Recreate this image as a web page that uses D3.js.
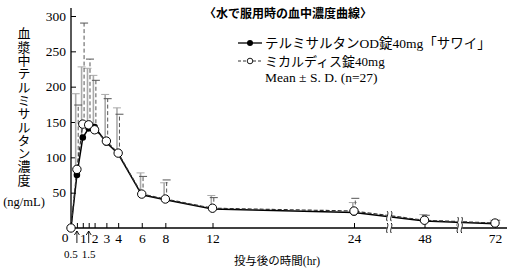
<!DOCTYPE html>
<meta charset="utf-8">
<head>
    <style>
        body {margin: 0; background-color: #ffffff;}
        .jp {font-family: "Liberation Serif", "Noto Sans CJK JP", serif;}
        .num {font-family: "Liberation Serif", serif;}
    </style>
    <title></title>
</head>
<body>
<script src="https://d3js.org/d3.v7.min.js"></script>
<script>

    // sampling times (hr) and plasma concentrations (ng/mL)
    const times   = [0, 0.5, 1, 1.5, 2, 3, 4, 6, 8, 12, 24, 48, 72];
    const odMean  = [0, 75, 128, 141, 143, 121, 105, 47, 40, 27, 22, 10, 6];
    const odSD    = [0, 115, 100, 85, 73, 68, 65, 31, 24, 19, 14, 9, 5];
    const micMean = [0, 83, 147, 146, 139, 123, 106, 48, 41, 28, 24, 11, 7];
    const micSD   = [0, 91, 143, 93, 70, 60, 55, 25, 27, 15, 18, 7, 4];

    const yTicks = [50, 100, 150, 200, 250, 300];
    const xTicks = [0.5, 1, 1.5, 2, 3, 4, 6, 8, 12, 24, 48, 72];
    const xSmall = [0.5, 1.5];     // labelled below with arrows
    const xBreaks = [36, 60];      // broken axis positions

    const width = 511, height = 273;

    var svg = d3.select("body")
      .append("svg")
        .attr("width", width)
        .attr("height", height);

    // time axis is compressed after 24 hr
    var x = d3.scaleLinear()
      .domain([0, 24, 72])
      .range([71, 354, 495]);

    var y = d3.scaleLinear()
      .domain([0, 300])
      .range([228, 16]);

    // ---- axes
    var xAxis = svg.append("g")
      .attr("transform", "translate(0," + y(0) + ")")
      .call(d3.axisBottom(x)
        .tickValues(xTicks)
        .tickSizeInner(-5)
        .tickSizeOuter(0)
        .tickPadding(5)
        .tickFormat(d => xSmall.includes(d) ? "" : d));
    xAxis.select(".domain").remove();
    xAxis.selectAll("line").attr("stroke", "#000").attr("stroke-width", 1);
    xAxis.selectAll("text")
      .attr("class", "num")
      .style("font-size", "13.5px")
      .attr("fill", "#000");

    var yAxis = svg.append("g")
      .attr("transform", "translate(" + x(0) + ",0)")
      .call(d3.axisLeft(y)
        .tickValues(yTicks)
        .tickSizeInner(-5)
        .tickSizeOuter(0)
        .tickPadding(5));
    yAxis.select(".domain").remove();
    yAxis.selectAll("line").attr("stroke", "#000").attr("stroke-width", 1);
    yAxis.selectAll("text")
      .attr("class", "num")
      .style("font-size", "13.5px")
      .attr("fill", "#000");

    svg.append("line")
      .attr("x1", x(0)).attr("x2", x(0))
      .attr("y1", y(0)).attr("y2", 8)
      .attr("stroke", "#000").attr("stroke-width", 1.3);
    svg.append("line")
      .attr("x1", x(0)).attr("x2", 507)
      .attr("y1", y(0)).attr("y2", y(0))
      .attr("stroke", "#000").attr("stroke-width", 1.3);

    svg.append("text")
      .attr("class", "num")
      .attr("x", x(0) - 6).attr("y", y(0) + 14)
      .attr("text-anchor", "middle")
      .style("font-size", "13.5px")
      .text("0");

    // 0.5 and 1.5 with little arrows
    xSmall.forEach(function (t, i) {
      var px = x(t);
      svg.append("path")
        .attr("d", "M" + px + "," + (y(0) + 15) + "V" + (y(0) + 3)
          + "M" + (px - 2.5) + "," + (y(0) + 7) + "L" + px + "," + (y(0) + 3)
          + "L" + (px + 2.5) + "," + (y(0) + 7))
        .attr("fill", "none")
        .attr("stroke", "#000")
        .attr("stroke-width", 0.9);
      svg.append("text")
        .attr("class", "num")
        .attr("x", px + (i == 0 ? -6 : 0)).attr("y", y(0) + 30)
        .attr("text-anchor", "middle")
        .style("font-size", "11px")
        .text(t);
    });

    // ---- error bars (upper SD)
    function errorBars(means, sds, dx, color, dash, sw) {
      var g = svg.append("g");
      times.forEach(function (t, i) {
        if (sds[i] == 0) return;
        var px = x(t) + dx;
        g.append("line")
          .attr("x1", px).attr("x2", px)
          .attr("y1", y(means[i])).attr("y2", y(means[i] + sds[i]))
          .attr("stroke", color)
          .attr("stroke-width", sw)
          .attr("stroke-dasharray", dash);
        g.append("line")
          .attr("x1", px - 4).attr("x2", px + 4)
          .attr("y1", y(means[i] + sds[i])).attr("y2", y(means[i] + sds[i]))
          .attr("stroke", color)
          .attr("stroke-width", 1);
      });
    }
    errorBars(odMean, odSD, -1.2, "#aaaaaa", null, 1.6);
    errorBars(micMean, micSD, 1.3, "#555555", "4,2.5", 1);

    // ---- lines
    var pts = (vals) => times.map((t, i) => [x(t), y(vals[i])]);
    var line = d3.line();

    svg.append("path")
      .attr("d", line(pts(odMean)))
      .attr("fill", "none")
      .attr("stroke", "#000")
      .attr("stroke-width", 1.5);
    svg.append("path")
      .attr("d", line(pts(micMean)))
      .attr("fill", "none")
      .attr("stroke", "#333")
      .attr("stroke-width", 1.2)
      .attr("stroke-dasharray", "4,2");

    // ---- break marks on the axis and the curves
    function breakMark(px, py) {
      svg.append("rect")
        .attr("x", px - 2.5).attr("y", py - 5)
        .attr("width", 5).attr("height", 10)
        .attr("fill", "#fff");
      [-2, 2].forEach(function (o) {
        var cx = px + o;
        svg.append("path")
          .attr("d", "M" + cx + "," + (py - 5)
            + "C" + (cx + 2.2) + "," + (py - 2) + " " + (cx - 2.2) + "," + (py + 2)
            + " " + cx + "," + (py + 5))
          .attr("fill", "none")
          .attr("stroke", "#000")
          .attr("stroke-width", 0.9);
      });
    }
    xBreaks.forEach(function (tb) {
      var i = d3.bisectRight(times, tb) - 1;
      var f = (x(tb) - x(times[i])) / (x(times[i + 1]) - x(times[i]));
      var v = (odMean[i] + micMean[i]) / 2 + f * ((odMean[i + 1] + micMean[i + 1]) / 2 - (odMean[i] + micMean[i]) / 2);
      breakMark(x(tb), y(v));
      breakMark(x(tb), y(0));
    });

    // ---- markers
    svg.append("g").selectAll("circle")
      .data(times)
      .enter()
      .append("circle")
        .attr("cx", d => x(d))
        .attr("cy", (d, i) => y(odMean[i]))
        .attr("r", 3.3)
        .attr("fill", "#000");
    svg.append("g").selectAll("circle")
      .data(times)
      .enter()
      .append("circle")
        .attr("cx", d => x(d))
        .attr("cy", (d, i) => y(micMean[i]))
        .attr("r", 4.2)
        .attr("fill", "#fff")
        .attr("stroke", "#000")
        .attr("stroke-width", 1);

    // ---- titles
    svg.append("text")
      .attr("x", 288).attr("y", 17.5)
      .attr("text-anchor", "middle")
      .style("font-family", "'Noto Sans CJK JP', sans-serif")
      .style("font-weight", "bold")
      .style("font-size", "12px")
      .text("〈水で服用時の血中濃度曲線〉");

    svg.append("text")
      .attr("class", "jp")
      .attr("x", 23).attr("y", 27)
      .style("writing-mode", "vertical-rl")
      .style("text-orientation", "upright")
      .style("font-size", "13px")
      .style("letter-spacing", "0.3px")
      .text("血漿中テルミサルタン濃度");
    svg.append("text")
      .attr("class", "num")
      .attr("x", 24).attr("y", 205.5)
      .attr("text-anchor", "middle")
      .style("font-size", "12.5px")
      .text("(ng/mL)");

    svg.append("text")
      .attr("class", "jp")
      .attr("x", 277).attr("y", 264.5)
      .attr("text-anchor", "middle")
      .style("font-size", "11.5px")
      .text("投与後の時間(hr)");

    // ---- legend
    var lg = svg.append("g");
    lg.append("line")
      .attr("x1", 238).attr("x2", 262).attr("y1", 43).attr("y2", 43)
      .attr("stroke", "#000").attr("stroke-width", 1.3);
    lg.append("circle")
      .attr("cx", 250).attr("cy", 43).attr("r", 3)
      .attr("fill", "#000");
    lg.append("text")
      .attr("class", "jp")
      .attr("x", 265).attr("y", 48)
      .style("font-size", "13.5px")
      .text("テルミサルタンOD錠40mg「サワイ」");

    lg.append("line")
      .attr("x1", 238).attr("x2", 262).attr("y1", 61).attr("y2", 61)
      .attr("stroke", "#333").attr("stroke-width", 1)
      .attr("stroke-dasharray", "3,2");
    lg.append("circle")
      .attr("cx", 250).attr("cy", 61).attr("r", 2.8)
      .attr("fill", "#fff").attr("stroke", "#000").attr("stroke-width", 0.9);
    lg.append("text")
      .attr("class", "jp")
      .attr("x", 265).attr("y", 66)
      .style("font-size", "13px")
      .text("ミカルディス錠40mg");

    lg.append("text")
      .attr("class", "num")
      .attr("x", 265).attr("y", 81.5)
      .style("font-size", "13.5px")
      .text("Mean ± S. D. (n=27)");

</script>
</body>
</html>
